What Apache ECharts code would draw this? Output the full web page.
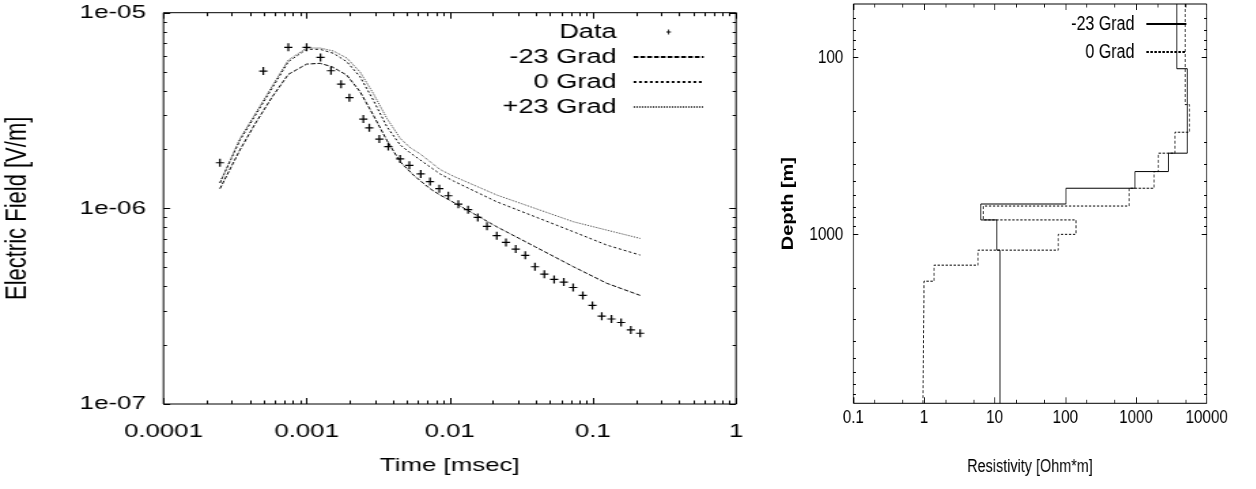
<!DOCTYPE html>
<html><head><meta charset="utf-8">
<script src="https://cdn.jsdelivr.net/npm/echarts@6/dist/echarts.min.js"></script>
<style>
html,body{margin:0;padding:0;background:#fff;overflow:hidden;}
#wrap{position:relative;width:1256px;height:489px;overflow:hidden;background:#fff;}
#left{position:absolute;left:0;top:0;width:560px;height:489px;transform:scaleX(1.36);transform-origin:0 0;}
#right{position:absolute;left:760px;top:0;width:620px;height:489px;transform:scaleX(0.8);transform-origin:0 0;}
</style></head><body>
<div id="wrap"><div id="left"></div><div id="right"></div></div>
<script>
// ---------- Left panel data: Electric field vs time ----------
const dataTime = [2.48e-4, 4.98e-4, 7.45e-4, 1.0e-3, 1.25e-3, 1.48e-3, 1.74e-3, 1.99e-3, 2.49e-3, 2.74e-3, 3.22e-3, 3.72e-3, 4.50e-3, 5.22e-3, 6.27e-3, 7.28e-3, 8.45e-3, 9.77e-3, 1.148e-2, 1.343e-2, 1.57e-2, 1.82e-2, 2.13e-2, 2.47e-2, 2.89e-2, 3.37e-2, 3.94e-2, 4.58e-2, 5.36e-2, 6.26e-2, 7.28e-2, 8.50e-2, 9.92e-2, 0.1153, 0.1347, 0.1574, 0.184, 0.2138];
const dataField = [1.71e-6, 5.03e-6, 6.65e-6, 6.65e-6, 5.91e-6, 5.05e-6, 4.31e-6, 3.68e-6, 2.86e-6, 2.58e-6, 2.26e-6, 2.07e-6, 1.79e-6, 1.66e-6, 1.50e-6, 1.37e-6, 1.26e-6, 1.16e-6, 1.05e-6, 9.84e-7, 8.99e-7, 8.09e-7, 7.25e-7, 6.70e-7, 6.19e-7, 5.75e-7, 5.03e-7, 4.61e-7, 4.33e-7, 4.20e-7, 3.94e-7, 3.59e-7, 3.19e-7, 2.81e-7, 2.72e-7, 2.61e-7, 2.39e-7, 2.30e-7];

const timeM23 = [2.48e-4, 3.42e-4, 4.36e-4, 5.73e-4, 7.45e-4, 1.0e-3, 1.24e-3, 1.50e-3, 1.905e-3, 2.36e-3, 2.92e-3, 3.63e-3, 4.50e-3, 5.57e-3, 7.28e-3, 8.55e-3, 1.148e-2, 2.13e-2, 3.94e-2, 7.31e-2, 0.125, 0.2138];
const fieldM23 = [1.26e-6, 1.99e-6, 2.70e-6, 3.70e-6, 4.84e-6, 5.46e-6, 5.51e-6, 5.30e-6, 4.80e-6, 3.95e-6, 3.00e-6, 2.23e-6, 1.73e-6, 1.48e-6, 1.26e-6, 1.17e-6, 1.04e-6, 8.05e-7, 6.37e-7, 5.03e-7, 4.14e-7, 3.59e-7];

const time0 = [2.48e-4, 3.42e-4, 4.36e-4, 5.73e-4, 7.45e-4, 1.0e-3, 1.24e-3, 1.54e-3, 1.905e-3, 2.36e-3, 2.92e-3, 3.63e-3, 4.50e-3, 5.3e-3, 6.20e-3, 8.55e-3, 1.06e-2, 2.13e-2, 3.94e-2, 7.31e-2, 0.125, 0.2138];
const field0 = [1.35e-6, 2.23e-6, 2.97e-6, 4.11e-6, 5.62e-6, 6.50e-6, 6.50e-6, 6.20e-6, 5.62e-6, 4.71e-6, 3.58e-6, 2.62e-6, 2.11e-6, 1.92e-6, 1.77e-6, 1.50e-6, 1.38e-6, 1.08e-6, 9.06e-7, 7.59e-7, 6.49e-7, 5.77e-7];

const timeP23 = [2.48e-4, 3.42e-4, 4.36e-4, 5.73e-4, 7.45e-4, 1.0e-3, 1.24e-3, 1.54e-3, 1.905e-3, 2.36e-3, 2.92e-3, 3.63e-3, 4.50e-3, 5.3e-3, 6.20e-3, 8.55e-3, 1.06e-2, 2.13e-2, 3.94e-2, 7.31e-2, 0.125, 0.2138];
const fieldP23 = [1.35e-6, 2.27e-6, 3.03e-6, 4.20e-6, 5.73e-6, 6.60e-6, 6.60e-6, 6.37e-6, 5.87e-6, 4.98e-6, 3.87e-6, 2.89e-6, 2.28e-6, 2.04e-6, 1.90e-6, 1.58e-6, 1.46e-6, 1.17e-6, 1.00e-6, 8.54e-7, 7.74e-7, 7.02e-7];

const leftXTickValues = [1e-4, 1e-3, 1e-2, 1e-1, 1];
const leftXTickLabels = ['0.0001', '0.001', '0.01', '0.1', '1'];
const leftYTickValues = [1e-7, 1e-6, 1e-5];
const leftYTickLabels = ['1e-07', '1e-06', '1e-05'];
const minorMultipliers = [2, 3, 4, 5, 6, 7, 8, 9];

// ---------- Right panel data: resistivity vs depth (layered models) ----------
const rhoM23 = [3767, 5325, 2866, 968, 102, 6.35, 10.7, 11.9];
const depthM23 = [50, 116, 348, 442, 549, 674, 829, 1228, 9000];
const rho0 = [4943, 5685, 3565, 2070, 1800, 796, 6.92, 141.6, 79.6, 5.81, 1.39, 1.0, 0.97];
const depth0 = [50, 185, 265, 348, 442, 549, 692, 829, 1000, 1228, 1493, 1839, 2265, 9000];

const rightXTickValues = [0.1, 1, 10, 100, 1000, 10000];
const rightXTickLabels = ['0.1', '1', '10', '100', '1000', '10000'];
const rightXMinorMultipliers = [2, 5];
const rightYTickValues = [100, 1000];
const rightYTickLabels = ['100', '1000'];

// ---------- helpers ----------
const FONT = '"Liberation Sans", Arial, Helvetica, sans-serif';
function pairs(a, b) { return a.map((v, i) => [v, b[i]]); }
function steps(rho, bounds) {
  const out = [];
  rho.forEach((r, i) => { out.push([r, bounds[i]]); out.push([r, bounds[i + 1]]); });
  return out;
}
function labelFor(values, labels) {
  return function (v) {
    for (let i = 0; i < values.length; i++) {
      if (Math.abs(Math.log10(values[i]) - Math.log10(v)) < 1e-6) return labels[i];
    }
    return '';
  };
}
function minorTicks(decades, mults, lo, hi) {
  const out = [];
  decades.forEach(d => mults.forEach(m => { const v = d * m; if (v > lo * 1.0001 && v < hi * 0.9999) out.push(v); }));
  return out;
}
function tickSeries(dim, values, ref, len) {
  return {
    type: 'custom', silent: true, clip: false, z: 10, animation: false,
    data: values.map(v => dim === 'x' ? [v, ref] : [ref, v]),
    renderItem: function (params, api) {
      const cs = params.coordSys;
      const p = api.coord([api.value(0), api.value(1)]);
      const st = { stroke: '#000', lineWidth: 1 };
      if (dim === 'x') {
        const x = Math.round(p[0]) + 0.5;
        const yb = cs.y + cs.height, yt = cs.y;
        return { type: 'group', children: [
          { type: 'line', shape: { x1: x, y1: yb, x2: x, y2: yb - len }, style: st },
          { type: 'line', shape: { x1: x, y1: yt, x2: x, y2: yt + len }, style: st }
        ] };
      } else {
        const y = Math.round(p[1]) + 0.5;
        const xl = cs.x, xr = cs.x + cs.width;
        return { type: 'group', children: [
          { type: 'line', shape: { x1: xl, y1: y, x2: xl + len, y2: y }, style: st },
          { type: 'line', shape: { x1: xr, y1: y, x2: xr - len, y2: y }, style: st }
        ] };
      }
    }
  };
}

const plusPath = 'path://M2.4,0H3.6V3.4H6V4.6H3.6V8H2.4V4.6H0V3.4H2.4Z';
const legendPlusPath = 'path://M0,0h0.01v0.01h-0.01Z M19.99,13.99h0.01v0.01h-0.01Z M9.6,4.5H10.4V6.6H11.65V7.4H10.4V9.5H9.6V7.4H8.35V6.6H9.6Z';
const hiddenSymbol = { opacity: 0 };

// ---------- Left chart ----------
const leftChart = echarts.init(document.getElementById('left'), null, { renderer: 'canvas' });
const lxMin = 1e-4, lxMax = 1, lyMin = 1e-7, lyMax = 1e-5;
leftChart.setOption({
  animation: false,
  backgroundColor: '#fff',
  textStyle: { fontFamily: FONT },
  grid: { left: 120.2, right: 18.8, top: 12.7, bottom: 85, show: true, borderColor: '#000', borderWidth: 1, containLabel: false, outerBoundsMode: 'none' },
  legend: {
    orient: 'vertical', right: 41.6, top: 22, align: 'right', padding: 0,
    itemWidth: 51.5, itemHeight: 14, itemGap: 5, selectedMode: false,
    textStyle: { fontFamily: FONT, fontSize: 20, color: '#000', lineHeight: 20, padding: [0, 7.5, 0, 0] },
    data: [
      { name: 'Data', icon: legendPlusPath, itemStyle: { color: '#000', opacity: 1 } },
      { name: '-23 Grad', itemStyle: hiddenSymbol },
      { name: '0 Grad', itemStyle: hiddenSymbol },
      { name: '+23 Grad', itemStyle: hiddenSymbol }
    ]
  },
  xAxis: {
    type: 'log', logBase: 10, min: lxMin, max: lxMax,
    name: 'Time [msec]', nameLocation: 'middle', nameGap: 52,
    nameTextStyle: { fontFamily: FONT, fontSize: 19, color: '#000' },
    axisLine: { show: false }, axisTick: { show: false }, splitLine: { show: false },
    axisLabel: { fontFamily: FONT, fontSize: 19, color: '#000', margin: 18, formatter: labelFor(leftXTickValues, leftXTickLabels) }
  },
  yAxis: {
    type: 'log', logBase: 10, min: lyMin, max: lyMax,
    name: 'Electric Field [V/m]', nameLocation: 'middle', nameGap: 96, nameRotate: 90,
    nameTextStyle: { fontFamily: FONT, fontSize: 22, color: '#000' },
    axisLine: { show: false }, axisTick: { show: false }, splitLine: { show: false },
    axisLabel: { fontFamily: FONT, fontSize: 19, color: '#000', margin: 13, formatter: labelFor(leftYTickValues, leftYTickLabels) }
  },
  series: [
    { name: 'Data', type: 'scatter', data: pairs(dataTime, dataField), symbol: plusPath, symbolSize: [6, 8],
      itemStyle: { color: '#000', opacity: 1 }, z: 4 },
    { name: '-23 Grad', type: 'line', data: pairs(timeM23, fieldM23), showSymbol: false, symbol: 'none', smooth: false,
      lineStyle: { color: '#000', width: 1, type: [3.5, 1.5] }, itemStyle: { color: '#000' } },
    { name: '0 Grad', type: 'line', data: pairs(time0, field0), showSymbol: false, symbol: 'none', smooth: false,
      lineStyle: { color: '#000', width: 1, type: [2, 2] }, itemStyle: { color: '#000' } },
    { name: '+23 Grad', type: 'line', data: pairs(timeP23, fieldP23), showSymbol: false, symbol: 'none', smooth: false,
      lineStyle: { color: '#444', width: 1, type: [1, 1] }, itemStyle: { color: '#444' } },
    tickSeries('x', leftXTickValues, lyMin, 6),
    tickSeries('x', minorTicks([1e-4, 1e-3, 1e-2, 1e-1], minorMultipliers, lxMin, lxMax), lyMin, 3.5),
    tickSeries('y', leftYTickValues, lxMin, 4.9),
    tickSeries('y', minorTicks([1e-7, 1e-6], minorMultipliers, lyMin, lyMax), lxMin, 2.5)
  ]
});

// ---------- Right chart ----------
const rightChart = echarts.init(document.getElementById('right'), null, { renderer: 'canvas' });
const rxMin = 0.1, rxMax = 10000, ryMin = 50, ryMax = 9000;
rightChart.setOption({
  animation: false,
  backgroundColor: '#fff',
  textStyle: { fontFamily: FONT },
  grid: { left: 116.6, right: 61.6, top: 4, bottom: 85.7, show: true, borderColor: '#000', borderWidth: 1, containLabel: false, outerBoundsMode: 'none' },
  legend: {
    orient: 'vertical', right: 86, top: 14, align: 'right', padding: 0,
    itemWidth: 50, itemHeight: 14, itemGap: 8, selectedMode: false,
    textStyle: { fontFamily: FONT, fontSize: 20, color: '#000', lineHeight: 20, padding: [0, 10, 0, 0] },
    data: [{ name: '-23 Grad', itemStyle: hiddenSymbol }, { name: '0 Grad', itemStyle: hiddenSymbol }]
  },
  xAxis: {
    type: 'log', logBase: 10, min: rxMin, max: rxMax,
    name: 'Resistivity [Ohm*m]', nameLocation: 'middle', nameGap: 55,
    nameTextStyle: { fontFamily: FONT, fontSize: 18, color: '#000' },
    axisLine: { show: false }, axisTick: { show: false }, splitLine: { show: false },
    axisLabel: { fontFamily: FONT, fontSize: 19, color: '#000', margin: 5, formatter: labelFor(rightXTickValues, rightXTickLabels) }
  },
  yAxis: {
    type: 'log', logBase: 10, min: ryMin, max: ryMax, inverse: true,
    name: 'Depth [m]', nameLocation: 'middle', nameGap: 71.6, nameRotate: 90,
    nameTextStyle: { fontFamily: FONT, fontSize: 20, fontWeight: 'bold', color: '#000' },
    axisLine: { show: false }, axisTick: { show: false }, splitLine: { show: false },
    axisLabel: { fontFamily: FONT, fontSize: 19, color: '#000', margin: 12.5, formatter: labelFor(rightYTickValues, rightYTickLabels) }
  },
  series: [
    { name: '-23 Grad', type: 'line', data: steps(rhoM23, depthM23), showSymbol: false, symbol: 'none', smooth: false,
      lineStyle: { color: '#000', width: 1, type: 'solid' }, itemStyle: { color: '#000' } },
    { name: '0 Grad', type: 'line', data: steps(rho0, depth0), showSymbol: false, symbol: 'none', smooth: false,
      lineStyle: { color: '#000', width: 1, type: [3, 2] }, itemStyle: { color: '#000' } },
    tickSeries('x', rightXTickValues, ryMin, 6),
    tickSeries('x', minorTicks([0.1, 1, 10, 100, 1000], rightXMinorMultipliers, rxMin, rxMax), ryMin, 3.5),
    tickSeries('y', rightYTickValues, rxMin, 6.25),
    tickSeries('y', minorTicks([10, 100, 1000], minorMultipliers, ryMin, ryMax), rxMin, 3.3)
  ]
});
</script>
</body></html>
